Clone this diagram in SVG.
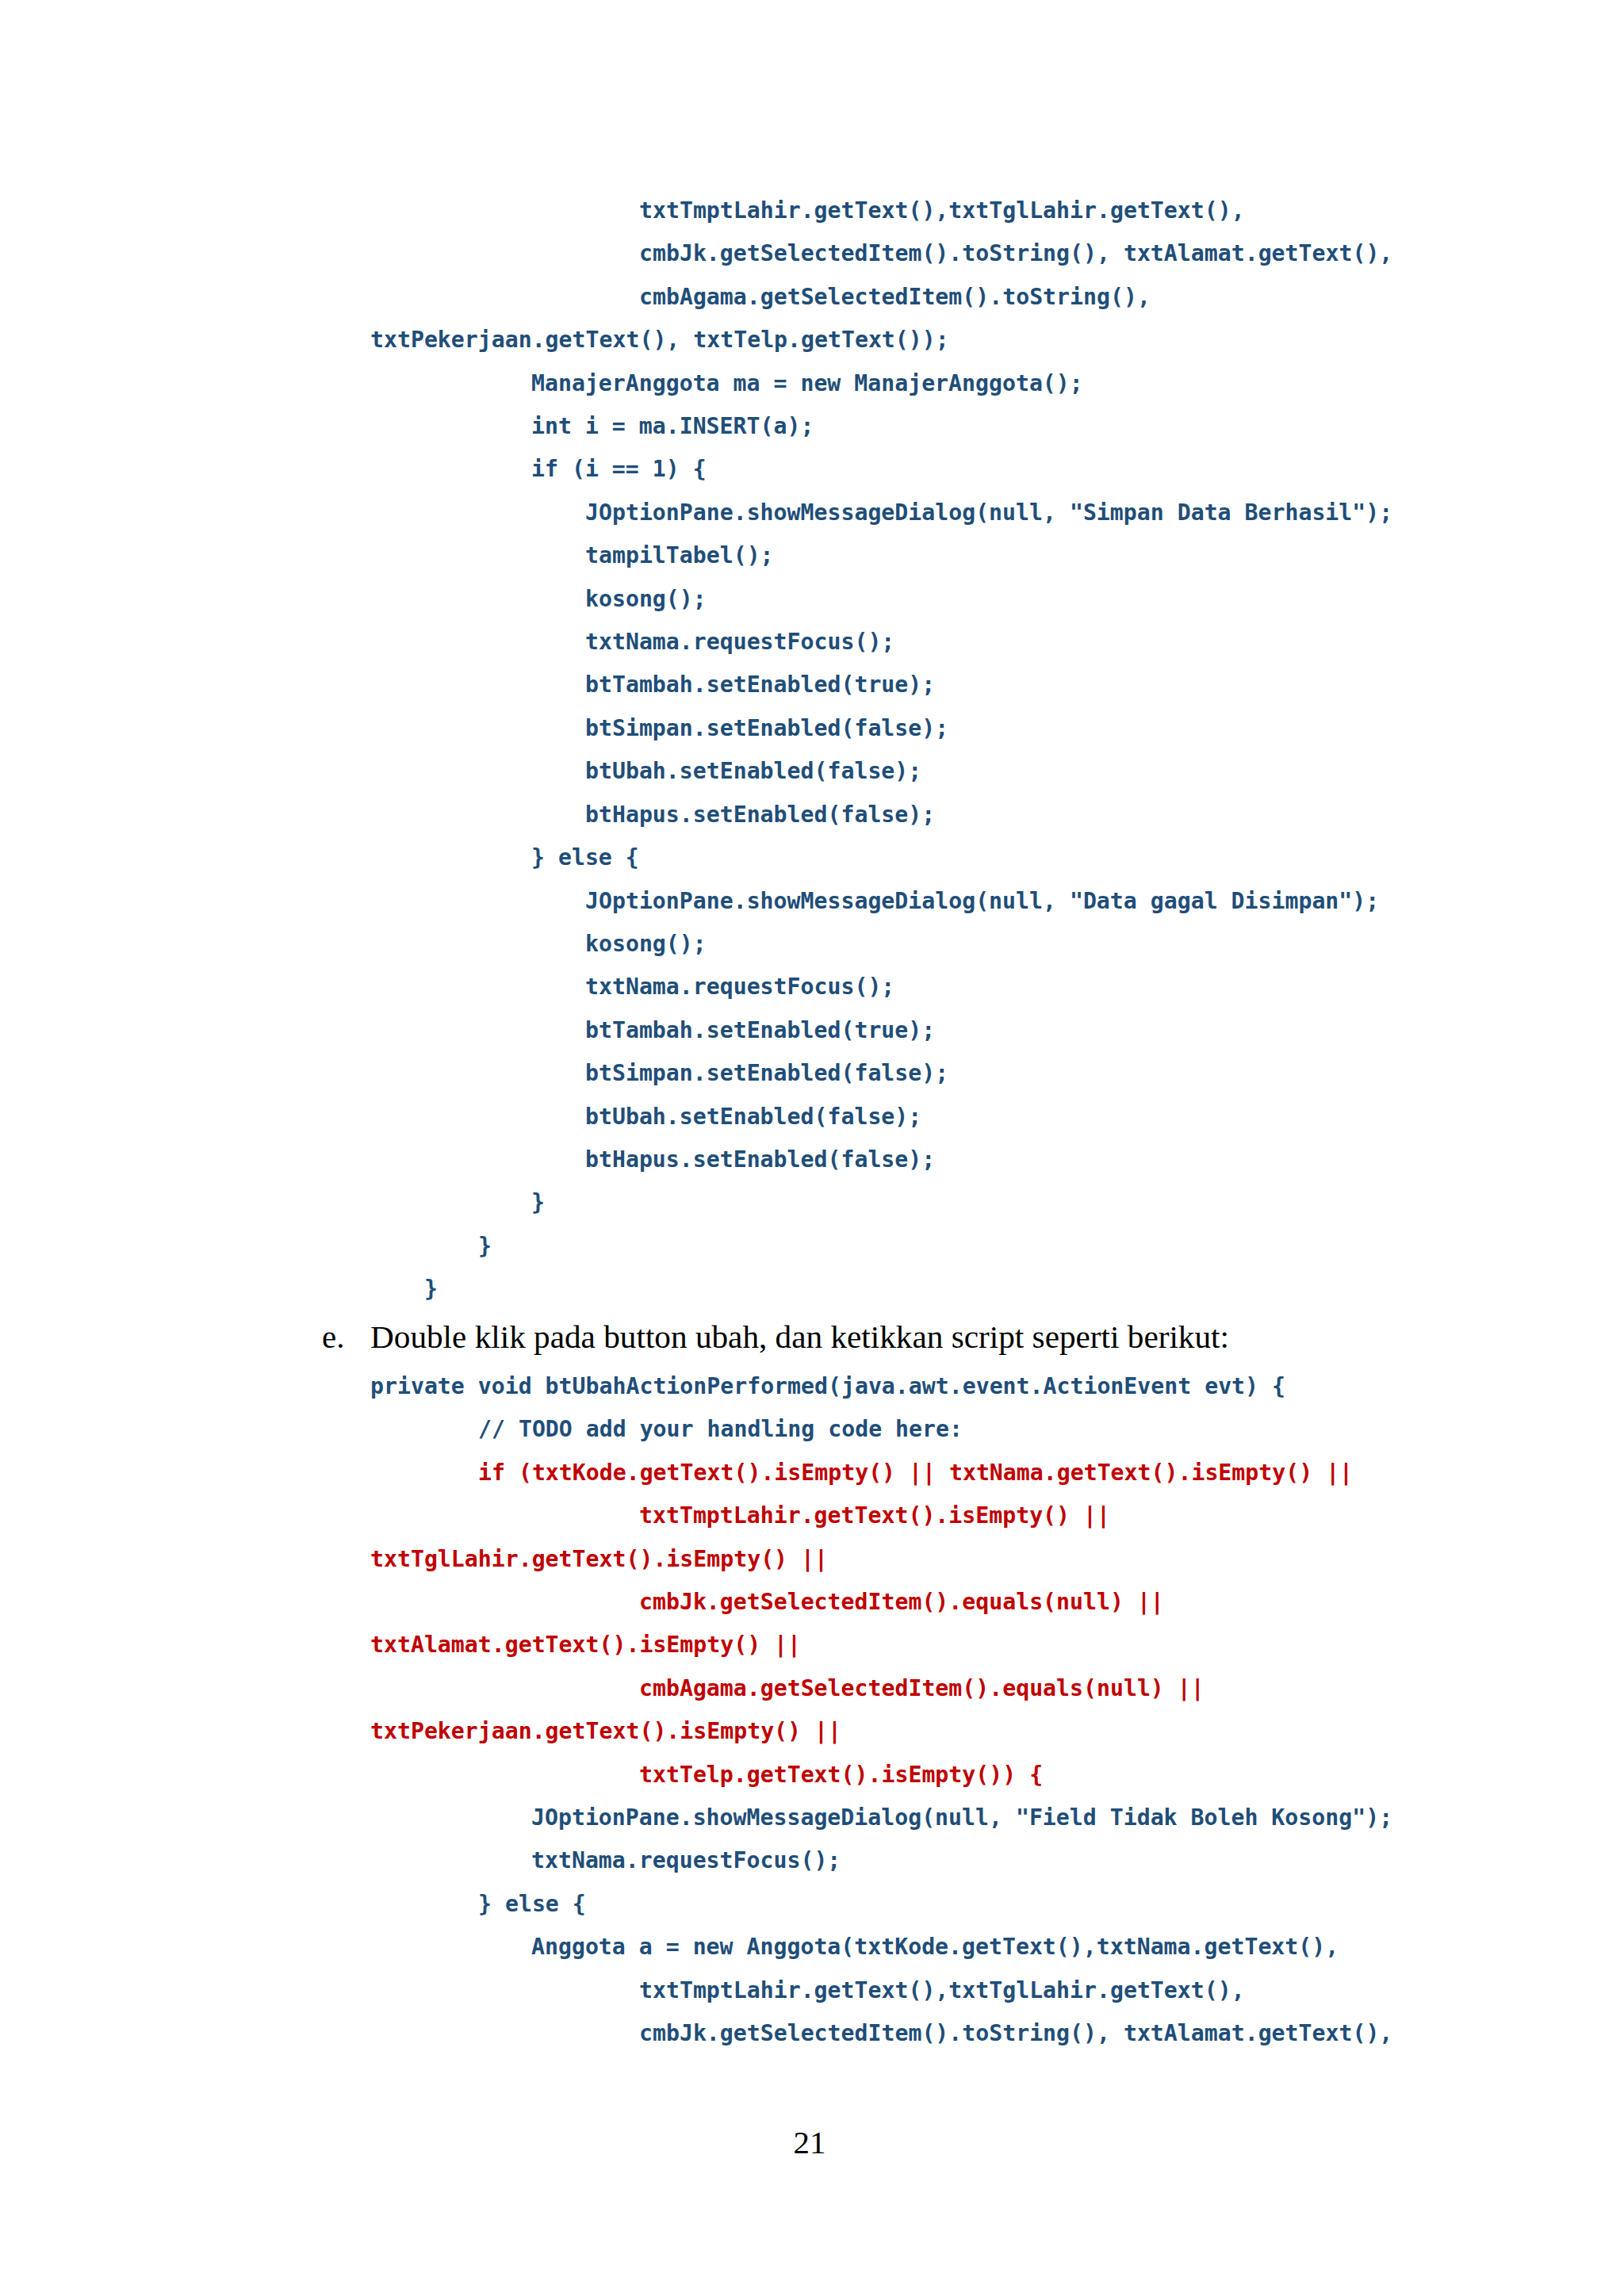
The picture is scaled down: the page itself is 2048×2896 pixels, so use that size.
<svg xmlns="http://www.w3.org/2000/svg" width="2048" height="2896" viewBox="0 0 2048 2896">
<style>
.c{font-family:"DejaVu Sans Mono","Liberation Mono",monospace;font-weight:bold;font-size:28.2px;fill:#1F4E79;white-space:pre}
.r{fill:#C00000}
.t{font-family:"Liberation Serif","Times New Roman",serif;font-size:41px;fill:#000}
</style>
<rect width="2048" height="2896" fill="#fff"/>
<g id="code1">
<text class="c" x="806" y="275">txtTmptLahir.getText(),txtTglLahir.getText(),</text>
<text class="c" x="806" y="329">cmbJk.getSelectedItem().toString(), txtAlamat.getText(),</text>
<text class="c" x="806" y="384">cmbAgama.getSelectedItem().toString(),</text>
<text class="c" x="467" y="438">txtPekerjaan.getText(), txtTelp.getText());</text>
<text class="c" x="670" y="493">ManajerAnggota ma = new ManajerAnggota();</text>
<text class="c" x="670" y="547">int i = ma.INSERT(a);</text>
<text class="c" x="670" y="601">if (i == 1) {</text>
<text class="c" x="738" y="656">JOptionPane.showMessageDialog(null, "Simpan Data Berhasil");</text>
<text class="c" x="738" y="710">tampilTabel();</text>
<text class="c" x="738" y="765">kosong();</text>
<text class="c" x="738" y="819">txtNama.requestFocus();</text>
<text class="c" x="738" y="873">btTambah.setEnabled(true);</text>
<text class="c" x="738" y="928">btSimpan.setEnabled(false);</text>
<text class="c" x="738" y="982">btUbah.setEnabled(false);</text>
<text class="c" x="738" y="1037">btHapus.setEnabled(false);</text>
<text class="c" x="670" y="1091">} else {</text>
<text class="c" x="738" y="1146">JOptionPane.showMessageDialog(null, "Data gagal Disimpan");</text>
<text class="c" x="738" y="1200">kosong();</text>
<text class="c" x="738" y="1254">txtNama.requestFocus();</text>
<text class="c" x="738" y="1309">btTambah.setEnabled(true);</text>
<text class="c" x="738" y="1363">btSimpan.setEnabled(false);</text>
<text class="c" x="738" y="1418">btUbah.setEnabled(false);</text>
<text class="c" x="738" y="1472">btHapus.setEnabled(false);</text>
<text class="c" x="670" y="1526">}</text>
<text class="c" x="603" y="1581">}</text>
<text class="c" x="535" y="1635">}</text>
</g>
<g id="heading">
<text class="t" x="406" y="1700">e.</text>
<text class="t" x="467" y="1700" textLength="1083" lengthAdjust="spacingAndGlyphs">Double klik pada button ubah, dan ketikkan script seperti berikut:</text>
</g>
<g id="code2">
<text class="c" x="467" y="1758">private void btUbahActionPerformed(java.awt.event.ActionEvent evt) {</text>
<text class="c" x="603" y="1812">// TODO add your handling code here:</text>
<text class="c r" x="603" y="1867">if (txtKode.getText().isEmpty() || txtNama.getText().isEmpty() ||</text>
<text class="c r" x="806" y="1921">txtTmptLahir.getText().isEmpty() ||</text>
<text class="c r" x="467" y="1976">txtTglLahir.getText().isEmpty() ||</text>
<text class="c r" x="806" y="2030">cmbJk.getSelectedItem().equals(null) ||</text>
<text class="c r" x="467" y="2084">txtAlamat.getText().isEmpty() ||</text>
<text class="c r" x="806" y="2139">cmbAgama.getSelectedItem().equals(null) ||</text>
<text class="c r" x="467" y="2193">txtPekerjaan.getText().isEmpty() ||</text>
<text class="c r" x="806" y="2248">txtTelp.getText().isEmpty()) {</text>
<text class="c" x="670" y="2302">JOptionPane.showMessageDialog(null, "Field Tidak Boleh Kosong");</text>
<text class="c" x="670" y="2356">txtNama.requestFocus();</text>
<text class="c" x="603" y="2411">} else {</text>
<text class="c" x="670" y="2465">Anggota a = new Anggota(txtKode.getText(),txtNama.getText(),</text>
<text class="c" x="806" y="2520">txtTmptLahir.getText(),txtTglLahir.getText(),</text>
<text class="c" x="806" y="2574">cmbJk.getSelectedItem().toString(), txtAlamat.getText(),</text>
</g>
<text class="t" x="1021" y="2716" text-anchor="middle">21</text>
</svg>
